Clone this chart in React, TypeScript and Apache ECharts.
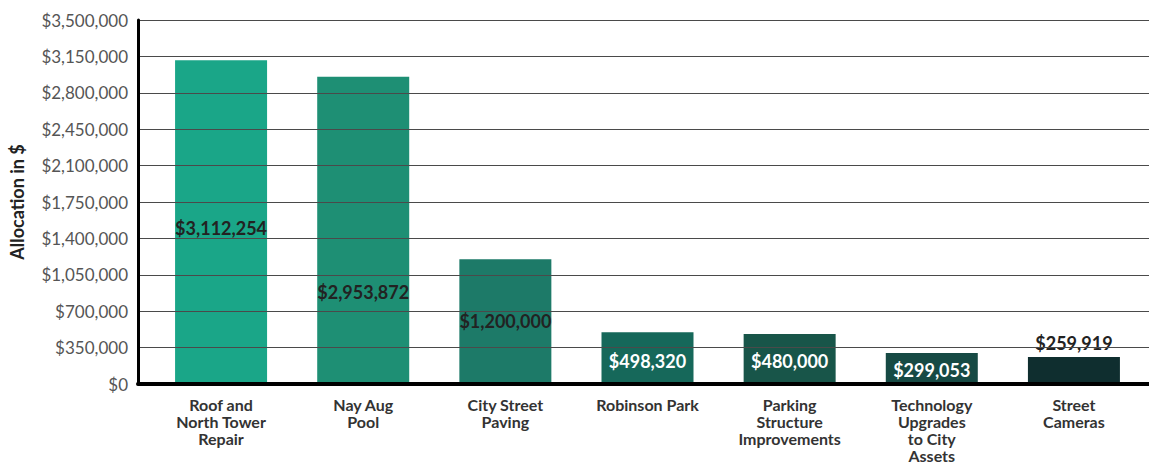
import React, { useEffect, useRef } from "react";
import * as echarts from "echarts";

const categories = [
  "Roof and\nNorth Tower\nRepair",
  "Nay Aug\nPool",
  "City Street\nPaving",
  "Robinson Park",
  "Parking\nStructure\nImprovements",
  "Technology\nUpgrades\nto City\nAssets",
  "Street\nCameras",
];
const values = [3112254, 2953872, 1200000, 498320, 480000, 299053, 259919];
const barColors = ["#1aa688", "#1e8f74", "#1d7a68", "#16685a", "#185549", "#174a44", "#0f2e2f"];
const labelColors = ["#222222", "#222222", "#222222", "#ffffff", "#ffffff", "#ffffff", "#222222"];
const labelOffsets = [[0, 6], [0, 62], [0, -1], [0, 3], [0, 2], [0, 2], [0, 0]];
const labelPositions = ["inside", "inside", "inside", "inside", "inside", "inside", "top"];
const yMax = 3500000;
const yStep = 350000;

const fmt = (v: number) => "$" + Math.round(v).toLocaleString("en-US");
const FONT = "Lato, 'Open Sans', sans-serif";

export default function App() {
  const ref = useRef<HTMLDivElement>(null);
  useEffect(() => {
    if (!ref.current) return;
    const chart = echarts.init(ref.current, null, { renderer: "svg" });
    chart.setOption({
      animation: false,
      backgroundColor: "#ffffff",
      grid: [
        { left: 150, right: 4, top: 20, bottom: 85 },
        { left: 138, right: 0, top: 20, bottom: 85 },
      ],
      xAxis: [
        {
          type: "category",
          gridIndex: 0,
          data: categories,
          axisTick: { show: false },
          axisLine: { show: false },
          axisLabel: {
            interval: 0,
            margin: 12,
            color: "#333333",
            fontFamily: FONT,
            fontWeight: "bold",
            fontSize: 16,
            lineHeight: 17,
          },
        },
        {
          type: "category",
          gridIndex: 1,
          data: ["x"],
          axisTick: { show: false },
          axisLabel: { show: false },
          axisLine: { show: true, lineStyle: { color: "#000000", width: 4 } },
          z: 10,
        },
      ],
      yAxis: [
        {
          type: "value",
          gridIndex: 0,
          min: 0,
          max: yMax,
          interval: yStep,
          axisLabel: { show: false },
          axisLine: { show: false },
          axisTick: { show: false },
          splitLine: { show: false },
        },
        {
          type: "value",
          gridIndex: 1,
          min: 0,
          max: yMax,
          interval: yStep,
          name: "Allocation in $",
          nameLocation: "middle",
          nameRotate: 90,
          nameGap: 112,
          nameTextStyle: { fontFamily: FONT, fontWeight: "bold", fontSize: 18, color: "#222222" },
          axisLabel: {
            formatter: (v: number) => fmt(v),
            margin: 10,
            color: "#555555",
            fontFamily: FONT,
            fontSize: 17,
          },
          axisLine: { show: true, lineStyle: { color: "#000000", width: 3 } },
          axisTick: { show: false },
          splitLine: { show: true, lineStyle: { color: "#4a4a4a", width: 1 } },
          z: 10,
        },
      ],
      series: [
        {
          type: "bar",
          xAxisIndex: 0,
          yAxisIndex: 0,
          barWidth: 92,
          data: values.map((v, i) => ({
            value: v,
            itemStyle: { color: barColors[i] },
            label: {
              show: true,
              position: labelPositions[i],
              offset: labelOffsets[i],
              color: labelColors[i],
              formatter: () => fmt(v),
              fontFamily: FONT,
              fontWeight: "bold",
              fontSize: 18,
            },
          })),
        },
      ],
    });
    return () => chart.dispose();
  }, []);
  return <div ref={ref} style={{ width: 1149, height: 469, position: "absolute", left: 0, top: 0 }} />;
}
